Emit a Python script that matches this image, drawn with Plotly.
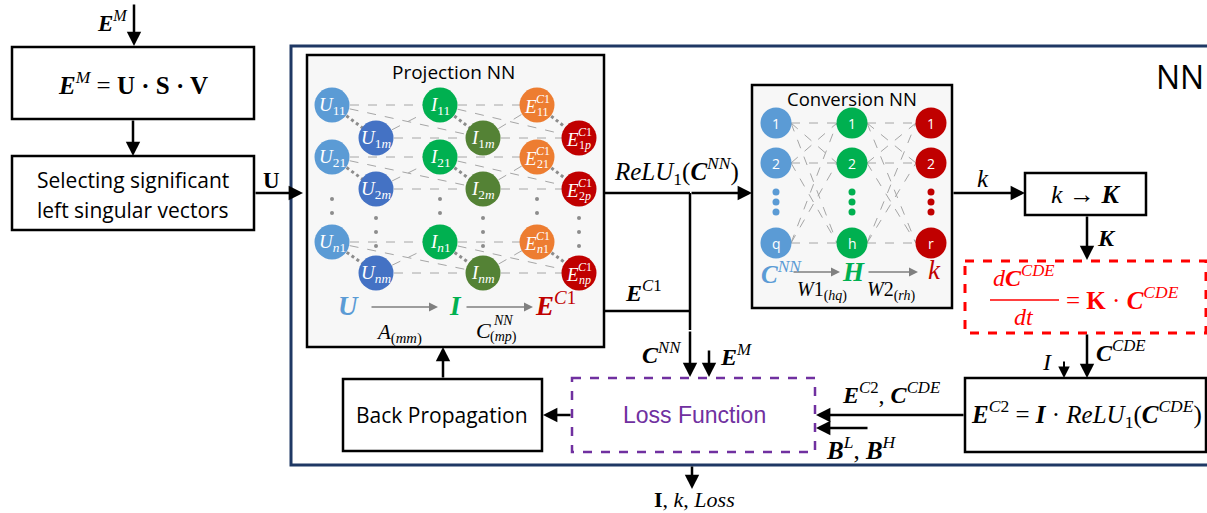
import plotly.graph_objects as go

W, H = 1207, 513
SERIF = "Liberation Serif"
SANS = "Open Sans"

# ---------------- data ----------------
proj_U_a = ["11", "21", "n1"]
proj_U_b = ["1m", "2m", "nm"]
proj_I_a = ["11", "21", "n1"]
proj_I_b = ["1m", "2m", "nm"]
proj_E_a = ["11", "21", "n1"]
proj_E_b = ["1p", "2p", "np"]
conv_in = ["1", "2", "q"]
conv_hidden = ["1", "2", "h"]
conv_out = ["1", "2", "r"]

# ---------------- layout constants ----------------
PX = [332, 376, 440, 483, 537, 579]           # projection columns
ROW_A = [105, 157, 242]
ROW_B = [138, 189, 273]
PCOL = ["#5b9bd5", "#4472c4", "#00b050", "#548235", "#ed7d31", "#c00000"]
CX = [776, 852, 931]
CROW = [123, 163, 243]
CCOL = ["#5b9bd5", "#00b050", "#c00000"]

shapes, ann = [], []


def T(x, y, text, size=18, color="black", family=SERIF, xa="center", ya="middle"):
    ann.append(dict(x=x, y=y, text=text, showarrow=False, xref="x", yref="y",
                    font=dict(size=size, color=color, family=family),
                    xanchor=xa, yanchor=ya))


def A(x0, y0, x1, y1, color="black", width=2.5, head=2, size=1.15):
    ann.append(dict(x=x1, y=y1, ax=x0, ay=y0, xref="x", yref="y", axref="x", ayref="y",
                    showarrow=True, arrowhead=head, arrowsize=size, arrowwidth=width,
                    arrowcolor=color, text=""))


def L(x0, y0, x1, y1, color="black", width=2.5, dash=None, layer="above"):
    d = dict(type="line", x0=x0, y0=y0, x1=x1, y1=y1, xref="x", yref="y",
             line=dict(color=color, width=width), layer=layer)
    if dash:
        d["line"]["dash"] = dash
    shapes.append(d)


def R(x0, y0, x1, y1, color="black", width=2.5, fill=None, dash=None, layer="below"):
    d = dict(type="rect", x0=x0, y0=y0, x1=x1, y1=y1, xref="x", yref="y",
             line=dict(color=color, width=width), layer=layer)
    if fill:
        d["fillcolor"] = fill
    if dash:
        d["line"]["dash"] = dash
    shapes.append(d)


def sub_fmt(s):
    return "".join(ch if ch.isdigit() else "<i>%s</i>" % ch for ch in s)


fig = go.Figure()

# ---------------- left part ----------------
T(112, 21, "<b><i>E</i></b><sup><i>M</i></sup>", 23)
A(134, 3, 134, 46)
R(12, 47, 254, 119, fill="white")
T(133, 83, "<b><i>E</i></b><sup><i>M</i></sup> = <b>U · S · V</b>", 25)
A(133, 119, 133, 156)
R(12, 156, 254, 230, fill="white")
T(133, 180, "Selecting significant", 21, family=SANS)
T(133, 210, "left singular vectors", 21, family=SANS)
T(271, 180, "<b>U</b>", 23)
A(254, 193, 303, 193)

# ---------------- NN frame ----------------
R(291, 46, 1220, 465, color="#1f3864", width=3)
T(1180, 76, "NN", 32, family=SANS)

# ---------------- projection NN ----------------
R(307, 55, 604, 347, fill="#f7f7f7", width=2.5)
T(453, 72, "Projection NN", 19, family=SANS)

GRAY = "#a6a6a6"
for (c1, c2) in [(0, 2), (2, 4)]:
    for r in range(3):
        a1 = (PX[c1], ROW_A[r]); b1 = (PX[c1 + 1], ROW_B[r])
        a2 = (PX[c2], ROW_A[r]); b2 = (PX[c2 + 1], ROW_B[r])
        L(a1[0], a1[1], a2[0], a2[1], GRAY, 1, "dash", "below")
        L(b1[0], b1[1], b2[0], b2[1], GRAY, 1, "dash", "below")
        L(a1[0], a1[1], b2[0], b2[1], GRAY, 1, "dash", "below")
        L(b1[0], b1[1], a2[0], a2[1], GRAY, 1, "dash", "below")
for c in [0, 2, 4]:
    for r in range(3):
        L(PX[c], ROW_A[r], PX[c + 1], ROW_B[r], "#8c8c8c", 3, "dot", "below")

# vertical dots
for i, x in enumerate(PX):
    ys = [199, 213] if i % 2 == 0 else [218, 232, 246]
    fig.add_trace(go.Scatter(x=[x] * len(ys), y=ys, mode="markers",
                             marker=dict(size=4, color="#8c8c8c"), hoverinfo="skip",
                             showlegend=False))

col_labels = [("U", proj_U_a), ("U", proj_U_b), ("I", proj_I_a), ("I", proj_I_b)]
for i in range(6):
    ys = ROW_A if i % 2 == 0 else ROW_B
    fig.add_trace(go.Scatter(x=[PX[i]] * 3, y=ys, mode="markers",
                             marker=dict(size=35, color=PCOL[i], line=dict(width=0)),
                             hoverinfo="skip", showlegend=False))
    if i < 4:
        letter, subs = col_labels[i]
        for y, s in zip(ys, subs):
            T(PX[i], y + 1, "<i>%s</i><sub>%s</sub>" % (letter, sub_fmt(s)), 19, "white")
    else:
        subs = proj_E_a if i == 4 else proj_E_b
        for y, s in zip(ys, subs):
            T(PX[i] - 7, y + 1, "<i>E</i>", 19, "white")
            T(PX[i] + 6, y - 6, "<i>C</i>1", 12, "white")
            T(PX[i] + 6, y + 7, sub_fmt(s), 12, "white")

# bottom row of projection box
T(348, 306, "<b><i>U</i></b>", 27, "#5b9bd5")
A(370, 307, 438, 307, "#808080", 1.5, 2, 1.2)
T(455, 306, "<b><i>I</i></b>", 27, "#00b050")
A(465, 307, 533, 307, "#808080", 1.5, 2, 1.2)
T(555, 304, "<b><i>E</i></b><sup><i>C</i>1</sup>", 27, "#c00000")
T(399, 333, "<i>A</i><sub>(<i>mm</i>)</sub>", 21)
T(483, 330, "<i>C</i>", 22)
T(503, 320, "<i>NN</i>", 14)
T(503, 337, "(<i>mp</i>)", 14)

# ---------------- connections middle ----------------
L(604, 193, 690, 193)
A(690, 193, 752, 193)
L(690, 193, 690, 330)
A(690, 330, 690, 377)
L(604, 311, 690, 311)
T(676, 171, "<i>ReLU</i><sub>1</sub>(<b><i>C</i></b><sup><i>NN</i></sup>)", 25)
T(643, 291, "<b><i>E</i></b><sup><i>C</i>1</sup>", 24)
T(661, 353, "<b><i>C</i></b><sup><i>NN</i></sup>", 24)
A(709, 349, 709, 377)
T(736, 355, "<b><i>E</i></b><sup><i>M</i></sup>", 24)

# ---------------- conversion NN ----------------
R(752, 85, 952, 308, fill="#f7f7f7", width=2.5)
T(852, 98, "Conversion NN", 18.5, family=SANS)
for (ca, cb) in [(0, 1), (1, 2)]:
    for ya in CROW:
        for yb in CROW:
            L(CX[ca] + 15, ya, CX[cb] - 15, yb, GRAY, 1, "dash", "below")
for i in range(3):
    fig.add_trace(go.Scatter(x=[CX[i]] * 3, y=CROW, mode="markers",
                             marker=dict(size=31, color=CCOL[i], line=dict(width=0)),
                             hoverinfo="skip", showlegend=False))
    fig.add_trace(go.Scatter(x=[CX[i]] * 3, y=[192, 202, 212], mode="markers",
                             marker=dict(size=7, color=CCOL[i]), hoverinfo="skip",
                             showlegend=False))
    labels = [conv_in, conv_hidden, conv_out][i]
    for y, s in zip(CROW, labels):
        T(CX[i], y, s, 14, "white", SANS)

A(792, 272, 840, 272, "#808080", 1.5, 2, 1.2)
T(781, 272, "<b><i>C</i></b><sup><i>NN</i></sup>", 25, "#5b9bd5")
T(853, 272, "<b><i>H</i></b>", 27, "#00b050")
A(867, 272, 918, 272, "#808080", 1.5, 2, 1.2)
T(934, 270, "<i>k</i>", 27, "#c00000")
T(822, 291, "<i>W</i>1<sub>(<i>hq</i>)</sub>", 20)
T(891, 291, "<i>W</i>2<sub>(<i>rh</i>)</sub>", 20)

# ---------------- right column ----------------
A(952, 193, 1025, 193)
T(983, 178, "<i>k</i>", 25)
R(1025, 173, 1146, 215, fill="white")
T(1086, 194, "<i>k</i> → <b><i>K</i></b>", 26)
A(1087, 215, 1087, 260)
T(1106, 238, "<b><i>K</i></b>", 24)

RED = "#ff0000"
R(965, 261, 1206, 333, color=RED, width=3, dash="dash", fill="white")
T(1024, 276, "<i>d</i><b><i>C</i></b><sup><i>CDE</i></sup>", 24, RED)
L(990, 300, 1059, 300, RED, 1.5)
T(1024, 317, "<i>dt</i>", 24, RED)
T(1122, 298, "= <b>K</b> · <b><i>C</i></b><sup><i>CDE</i></sup>", 25, RED)

A(1087, 333, 1087, 378)
T(1121, 351, "<b><i>C</i></b><sup><i>CDE</i></sup>", 24)
A(1064, 360, 1064, 378, width=2)
T(1047, 362, "<i>I</i>", 24)

R(965, 378, 1206, 452, fill="white")
T(1086, 414, "<b><i>E</i></b><sup><i>C</i>2</sup> = <b><i>I</i></b> · <i>ReLU</i><sub>1</sub>(<b><i>C</i></b><sup><i>CDE</i></sup>)", 25)

A(965, 415, 816, 415)
T(891, 393, "<b><i>E</i></b><sup><i>C</i>2</sup>, <b><i>C</i></b><sup><i>CDE</i></sup>", 24)
A(869, 428, 816, 428)
T(861, 448, "<b><i>B</i></b><sup><i>L</i></sup>, <b><i>B</i></b><sup><i>H</i></sup>", 25)

# ---------------- loss & back propagation ----------------
PURPLE = "#7030a0"
R(572, 378, 815, 452, color=PURPLE, width=2.5, dash="dash", fill="white")
T(694, 415, "Loss Function", 23, PURPLE, "Liberation Sans")
A(572, 415, 543, 415)
R(343, 379, 542, 451, fill="white")
T(442, 415, "Back Propagation", 21, family=SANS)
A(443, 379, 443, 347)

A(692, 465, 692, 489)
T(694, 499, "<b>I</b>, <i>k</i>, <i>Loss</i>", 22)

fig.update_layout(
    width=W, height=H, margin=dict(l=0, r=0, t=0, b=0),
    paper_bgcolor="white", plot_bgcolor="white",
    xaxis=dict(range=[0, W], visible=False, fixedrange=True),
    yaxis=dict(range=[H, 0], visible=False, fixedrange=True),
    shapes=shapes, annotations=ann, showlegend=False,
)
fig.write_html("out.html", config={"displayModeBar": False},
               post_script="document.body.style.margin='0';document.body.style.overflow='hidden';")
